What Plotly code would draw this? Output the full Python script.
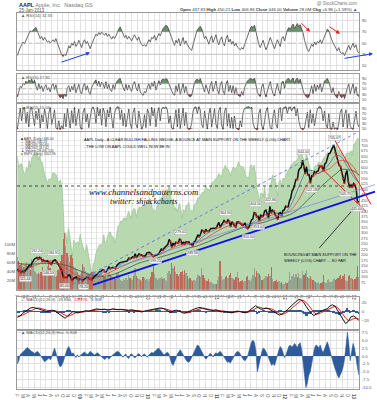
import numpy as np
import pandas as pd
import plotly.graph_objects as go

# ---------------- DATA ----------------
# Weekly AAPL closes (Fridays) Feb-2008 .. 25-Jan-2013 plus last session 28-Jan-2013
aapl_close = [
 133.75,125.48,124.63,119.46,125.02, 122.25,126.61,133.27,143.01, 153.08,147.14,161.04,169.73,
 180.94,183.45,187.62,181.17,188.75, 185.64,172.37,175.27,170.09, 170.12,172.58,165.15,162.12,
 156.66,169.55,175.74,176.79,169.53, 160.18,148.94,140.91,128.24, 97.07,96.80,97.40,96.38,107.59,
 108.04,90.24,82.58,92.67, 94.00,98.27,88.93,85.81,
 90.75,88.47,82.33,88.36,90.13, 99.72,99.16,91.20,89.31, 85.30,95.93,101.59,106.85, 115.99,119.57,123.42,123.90,
 132.51,129.57,122.42,122.50,135.81, 144.67,136.97,139.48,142.44, 140.02,138.52,151.75,159.99,163.39,
 165.51,166.78,169.22,170.05, 170.31,172.16,185.02,182.37, 184.90,190.47,188.05,205.20,188.50,
 194.34,204.45,199.92,200.59, 193.32,194.67,195.43,209.04,210.73,
 211.98,205.93,197.90,192.06, 195.46,200.38,201.67,204.62, 218.95,226.60,222.25,230.90,
 235.97,241.79,247.40,270.83,261.09, 235.86,253.82,242.32,256.88, 255.96,253.51,274.07,266.70,
 246.94,259.62,249.90,259.94,257.25, 260.09,249.10,249.64,241.62, 258.77,263.41,275.37,292.32,
 282.52,294.07,314.74,307.47,300.98, 317.13,308.03,306.73,315.00, 320.15,320.56,320.61,323.60,322.56,
 336.12,348.48,326.72,336.10, 346.50,356.85,350.56,348.16, 360.00,351.99,330.01,351.54,
 344.56,330.80,327.46,350.70,350.13, 346.66,340.50,335.22,337.41, 343.44,325.90,320.26,326.35,
 343.26,360.00,364.92,393.30,390.48, 373.62,376.18,356.03,383.58, 374.05,377.48,400.50,404.30,381.32,
 369.80,422.00,392.87,404.95, 400.24,384.62,374.94,363.57, 389.70,393.62,380.02,403.33,405.00,
 422.40,419.81,420.30,447.28, 459.68,493.42,502.12,522.41, 545.18,545.17,585.57,596.05,599.55,
 633.68,605.23,572.98,603.00, 565.25,566.71,530.38,562.29, 560.99,580.32,574.13,582.10,584.00,
 605.88,604.97,604.30,585.16, 615.70,621.70,648.11,663.22,665.24, 680.44,691.28,700.09,667.10,
 652.59,629.71,609.84,604.00, 576.80,547.06,527.68,571.50,585.28, 533.25,509.79,519.33,509.59,
 527.00,520.30,500.00,439.88,446.00]

# Volume (millions of shares)
aapl_volume_m = [
 72,65,55,60,52, 50,58,62,48, 55,45,68,58, 42,40,36,38,35, 40,50,42,44, 40,52,64,48,
 42,36,30,28,30, 45,48,65,78, 112,125,98,82,72, 62,78,70,52, 48,46,40,32,
 36,40,58,50,42, 38,36,34,38, 40,42,38,36, 34,30,36,38, 32,30,28,26,30, 38,32,30,28,
 26,24,38,40,28, 22,20,24,22, 26,22,32,26, 24,22,30,48,30, 26,24,22,20, 28,26,22,24,20,
 24,28,40,58, 36,26,22,24, 26,28,24,26, 22,20,38,42,34, 60,48,52,40, 36,30,34,40,
 42,32,44,38,30, 24,26,22,20, 22,20,26,32, 30,28,48,32,26, 22,20,24,18, 18,16,14,12,14,
 22,28,65,30, 22,24,28,30, 26,32,38,26, 24,22,28,40,26, 18,20,22,18, 20,28,30,22,
 20,24,32,48,28, 42,38,34,30, 22,24,26,30,28, 36,30,50,24, 18,20,22,18, 20,16,18,14,12,
 18,16,20,40, 22,30,34,28, 36,28,38,26,24, 42,32,38,45, 28,26,30,24, 22,20,18,16,18,
 14,16,18,32, 18,16,22,24,18, 18,20,24,22, 24,26,30,32, 24,30,34,22,20, 30,32,26,24,
 22,24,28,52,28]

# S&P 500 weekly closes (green overlay)
spx_close = [
 1395,1331,1349,1353,1331, 1294,1288,1330,1316, 1370,1332,1390,1398, 1413,1388,1426,1375,1400,
 1361,1360,1318,1278, 1262,1239,1260,1257, 1260,1296,1298,1292,1283, 1242,1252,1255,1213,
 1099,899,940,877,968, 930,873,800,896, 876,879,887,873,
 931,890,850,831,826, 869,827,770,735, 683,756,768,816, 843,857,870,866, 877,929,883,887,919,
 940,946,921,918, 896,880,941,979,987, 1010,1004,1026,1029, 1016,1042,1068,1044,
 1025,1071,1087,1080,1036, 1069,1093,1091,1091, 1106,1106,1102,1126,1115,
 1144,1136,1091,1074, 1066,1075,1109,1104, 1138,1149,1159,1167, 1178,1194,1192,1217,1187,
 1111,1136,1088,1089, 1064,1092,1117,1076, 1022,1078,1065,1102,1102, 1122,1079,1071,1065,
 1105,1110,1125,1149, 1147,1166,1176,1183,1183, 1226,1200,1200,1189, 1225,1240,1244,1257,1258,
 1272,1293,1283,1276, 1310,1329,1343,1320, 1321,1304,1279,1313, 1332,1328,1319,1337,1364,
 1340,1338,1333,1331, 1300,1271,1271,1268, 1339,1344,1316,1345,1292, 1199,1178,1123,1177,
 1174,1154,1216,1136,1131, 1155,1224,1238,1285, 1253,1263,1216,1159, 1244,1255,1219,1265,1258,
 1278,1289,1315,1316, 1345,1343,1361,1366, 1370,1371,1404,1397,1408, 1398,1370,1378,1403,
 1369,1353,1295,1318, 1278,1325,1343,1335,1362, 1355,1356,1362,1386, 1391,1405,1418,1411,1406,
 1438,1466,1460,1441, 1461,1428,1433,1412, 1414,1380,1360,1409,1416, 1418,1413,1430,1402,
 1466,1472,1486,1503,1500]

# Moving averages, month-end values Feb-2008 .. Jan-2013
ma50 = [140,128,140,165,180,172,165,155,125,103,93,
        89,90,93,108,122,135,145,160,172,185,192,200,
        203,200,212,236,250,255,255,252,260,282,302,313,
        328,343,347,343,342,338,353,375,385,392,392,390,
        415,470,535,585,585,572,590,620,655,648,605,560,
        530]
ma100 = [165,155,145,150,162,172,172,162,145,128,112,
         98,92,92,98,108,120,133,146,158,170,180,188,
         195,198,205,220,233,245,250,252,255,266,283,300,
         315,328,337,343,345,340,345,357,370,383,388,390,
         400,428,470,520,555,575,585,595,620,632,625,605,
         561]
ma200 = [160,158,157,158,160,160,160,160,155,147,135,
         125,115,107,103,102,106,114,125,138,150,162,170,
         178,184,192,200,208,218,226,234,240,250,260,272,
         283,295,305,315,325,332,338,345,352,362,370,375,
         383,398,420,447,472,500,525,548,570,590,590,585,
         567]

rsi14 = [28,36,42,47,52,49,55,60,66,72, 70,74,76,78,71,64,58,62,55,60,
 57,52,54,50,53,56,52,58,50,42, 33,29,26,30,28,38,45,41,50,46,
 53,44,48,55,47,42,51,56,49,53, 46,40,48,55,61,66,63,69,65,70,
 67,64,68,62,66,60,57,62,58,63, 70,75,79,72,66,60,64,57,62,58,
 54,60,65,59,55,61,52,48,45,47, 44,50,56,52,60,58,64,55,62,67,
 63,70,76,79,82,80,74,68,60,52, 46,55,50,58,45,53,60,48,54,47,
 42,39,37,48,56,66,74,78,80,76, 68,58,62,55,48,57,63,51,59,65,
 54,47,56,61,50,45,58,64,52,57, 48,53,45,50,43,40,38,42,39,47,
 55,63,70,76,80,78,82,70,58,48, 42,50,55,46,38,44,52,60,53,45,
 40,48,56,50,44,58,62,54,66,73, 78,74,80,84,76,82,85,79,83,75,
 68,55,45,38,35,42,48,44,52,47, 53,50,56,49,55,62,70,75,72,63,
 56,50,45,40,36,42,34,31,33,28, 35,40,46,38,44,50,42,47,36,32]

rsi5 = [18,40,60,55,72,65,80,70,85,78, 88,72,84,60,45,70,50,62,40,58,
 66,45,55,38,62,70,48,66,35,25, 15,22,12,30,20,55,62,38,60,45,
 70,35,50,68,40,30,58,72,45,62, 38,28,55,70,78,85,62,80,58,76,
 70,52,78,50,68,45,40,66,48,72, 82,88,90,70,55,42,68,45,65,50,
 40,68,78,55,42,70,38,30,25,40, 35,58,70,48,74,60,80,45,70,82,
 65,84,88,85,90,86,70,58,42,30, 25,62,40,70,28,55,72,35,60,30,
 22,18,25,55,72,84,88,80,90,75, 50,38,66,45,30,65,78,40,62,80,
 48,30,66,78,42,28,70,82,40,64, 35,62,30,55,28,22,20,40,25,55,
 72,80,86,90,88,84,92,60,38,25, 20,58,70,35,18,42,66,78,50,30,
 22,55,72,45,28,75,80,52,82,88, 90,78,88,92,70,86,92,75,88,60,
 45,28,20,15,18,45,62,30,68,40, 65,48,72,38,62,80,86,90,78,50,
 35,55,28,20,15,40,22,15,28,12, 35,55,68,30,52,70,32,58,25,20]

rsi2 = [5,60,92,40,85,96,30,75,15,88, 95,55,20,80,45,90,10,65,35,88,
 60,8,72,94,25,50,85,12,5,40, 3,20,8,70,15,90,45,10,82,30,
 95,20,60,88,15,5,75,92,35,68, 12,50,90,97,80,30,95,60,88,22,
 92,75,15,85,55,96,40,10,70,90, 98,95,45,85,20,70,15,55,88,30,
 8,75,92,25,10,80,35,6,18,65, 12,88,72,20,95,60,90,15,70,94,
 40,88,96,92,97,85,30,60,10,5, 40,85,15,90,8,50,92,20,75,10,
 4,6,30,80,95,97,70,98,85,25, 12,80,40,6,70,92,15,60,90,25,
 8,82,95,20,5,78,93,18,70,10, 55,8,60,12,5,3,40,15,75,90,
 95,97,98,92,96,30,10,5,3,70, 88,20,4,35,80,94,50,12,6,60,
 85,25,10,88,94,40,92,96,98,70, 95,97,80,94,98,60,90,40,15,6,
 3,10,50,75,12,85,30,70,20,65, 90,96,98,85,40,80,25,10,70,8,
 4,35,5,12,3,30,75,88,15,60, 85,10,70,20,8,5,45,80,30,15]

macd_line = [-13,-10,-4,0,5,8,9,8,6,4, 2,0,1,3,2,-2,-6,-12,-15,-10,
 -4,0,-2,-3,-1,1,2,1,3,5, 6,5,4,5,3,4,6,5,4,5,
 4,3,2,4,3,2,1,-1,1,2, 4,5,6,7,8,7,4,0,-2,2,
 3,1,-2,-4,-2,1,3,6,8,9, 7,5,4,3,2,4,2,-1,1,0,
 -2,-3,-1,1,0,-2,-3,-1,4,10, 13,9,5,6,8,6,2,-2,-5,-8,
 -6,-2,4,10,16,22,26,27,22,12, 3,-4,-9,-6,-2,2,4,6,12,15,
 12,2,-8,-18,-27,-22,-12,-10,-14,-20]
macd_signal = [-10,-10,-8,-5,-2,2,5,7,8,7, 5,3,2,1,2,1,-1,-5,-9,-11,
 -9,-5,-3,-2,-2,-1,0,1,1,3, 4,5,5,5,4,4,5,5,5,5,
 4,4,3,3,3,3,2,1,0,1, 2,3,5,6,7,7,6,4,1,0,
 1,2,0,-2,-3,-2,0,2,5,7, 8,7,5,4,3,3,3,2,0,0,
 -1,-2,-2,-1,0,-1,-2,-2,0,4, 8,10,9,7,7,7,6,3,-1,-4,
 -6,-5,-1,4,9,15,20,24,25,21, 14,6,-2,-6,-5,-2,1,3,6,10,
 12,9,2,-6,-15,-20,-19,-16,-15,-17]
macd_hist = [-2.5,-1.5,0.5,1.0,1.4,1.8,2.2,2.7,2.3,1.8, 1.4,1.2,0.8,1.1,1.5,1.0,0.3,-0.8,-1.3,-1.8,
 -1.5,-1.0,-0.6,-1.2,-0.5,1.2,2.5,1.0,-1.2,-2.5, -3.5,-3.0,-2.0,-0.8,1.0,2.4,3.0,2.0,0.6,1.0,
 0.3,-0.5,0.4,-0.3,0.2,0.6,0.9,1.3,0.8,0.5, 0.9,1.5,1.1,0.6,0.3,0.7,1.0,0.6,0.2,-0.4,
 -0.9,-1.1,-0.7,-0.3,-1.0,-0.5,0.3,0.5,0.8,1.1, 1.5,1.3,0.8,0.2,-0.4,0.3,0.6,-0.5,-0.8,0.4,
 0.7,0.2,-0.6,-0.3,0.5,0.8,0.3,-0.2,0.4,0.6, 0.2,-0.4,0.3,0.8,1.2,0.9,1.4,1.8,2.2,2.5,
 2.0,1.3,0.6,0.4,0.9,1.2,0.8,-1.0,-2.4,-3.0, -2.0,-0.8,0.6,1.4,2.0,1.2,0.3,-0.5,-1.2,-1.8,
 -2.0,-1.4,-0.4,0.8,2.0,2.8,3.5,3.2,2.4,1.2, 0.6,-0.5,-1.0,-0.4,0.5,0.9,0.4,-0.3,0.6,1.0,
 0.7,1.2,1.5,0.9,0.2,-0.6,-1.2,-2.0,-1.8,-2.2, -1.5,-0.6,0.4,1.0,1.5,1.3,0.6,-0.4,-1.0,-1.5,
 -1.2,-0.3,1.5,3.2,4.6,5.0,4.2,1.5,-5.0,-3.0, -0.5,1.2,2.5,2.2,1.4,0.3,-1.2,-2.5,-3.0,-2.4,
 -3.0,-1.5,0.5,1.8,3.0,2.4,1.0,-0.5,0.4,2.0, 3.0,3.5,2.8,3.2,4.0,3.4,2.6,3.8,4.2,2.0,
 -2.5,-6.0,-10.0,-8.5,-6.0,-5.0,-2.5,0.5,2.5,3.5, 3.2,2.5,3.5,2.0,1.0,2.2,3.5,4.5,3.0,1.0,
 -0.5,-2.0,-3.5,-5.0,-6.0,-7.0,-6.2,-5.0,-3.5,-1.0, 3.0,7.5,4.0,-1.5,1.5,4.0,2.5,-1.0,-3.5,-6.0]

# price callout labels
label_dates = ['2008-03-17','2008-05-14','2008-07-15','2008-08-11','2008-10-10','2009-01-20',
               '2010-02-05','2010-06-21','2010-08-25','2011-02-16','2011-06-20','2011-07-26',
               '2011-08-09','2011-10-12','2012-04-10','2012-05-18','2012-09-21','2012-11-16','2013-01-18']
label_prices = [115.44,192.24,146.53,180.91,85.00,78.20,199.25,279.01,235.56,364.90,310.50,404.50,
                353.02,422.86,644.00,522.18,705.07,505.75,435.00]
label_above = [False,True,False,True,False,False,False,True,False,True,False,True,
               False,True,True,False,True,False,False]

start, end = '2008-02-01', '2013-01-28'
def dates_for(arr):
    return pd.date_range(start, end, periods=len(arr))

# ---------------- FIGURE ----------------
W, H = 377, 400
ML, MR = 17, 18
def px(X): return (X - ML) / (W - ML - MR)
def py(Y): return 1 - Y / H

FONT = "Liberation Sans, Arial, sans-serif"
GRID = "#e2e2e2"
TXT = "#555555"

fig = go.Figure()
wk = dates_for(aapl_close)

def rsi_panel(vals, yname, xname, hi, lo):
    d = dates_for(vals)
    v = np.array(vals, dtype=float)
    fig.add_trace(go.Scatter(x=d, y=[hi]*len(d), mode='lines', line=dict(width=0), xaxis=xname, yaxis=yname, hoverinfo='skip'))
    fig.add_trace(go.Scatter(x=d, y=np.maximum(v, hi), mode='lines', line=dict(width=0), fill='tonexty',
                             fillcolor='rgba(60,110,60,0.75)', xaxis=xname, yaxis=yname, hoverinfo='skip'))
    fig.add_trace(go.Scatter(x=d, y=[lo]*len(d), mode='lines', line=dict(width=0), xaxis=xname, yaxis=yname, hoverinfo='skip'))
    fig.add_trace(go.Scatter(x=d, y=np.minimum(v, lo), mode='lines', line=dict(width=0), fill='tonexty',
                             fillcolor='rgba(140,30,30,0.8)', xaxis=xname, yaxis=yname, hoverinfo='skip'))
    fig.add_trace(go.Scatter(x=d, y=v, mode='lines', line=dict(color='#444444', width=0.8), xaxis=xname, yaxis=yname))

rsi_panel(rsi14, 'y', 'x', 70, 30)
rsi_panel(rsi5, 'y2', 'x2', 70, 30)
rsi_panel(rsi2, 'y3', 'x3', 90, 10)

# ---- Price panel ----
fig.add_trace(go.Scatter(x=wk, y=spx_close, mode='lines', line=dict(color='#8fbf86', width=0.6),
                         fill='tozeroy', fillcolor='#b8d8b0', xaxis='x4', yaxis='y4'))
closes = np.array(aapl_close)
down = np.r_[False, closes[1:] < closes[:-1]]
vcol = np.where(down, 'rgba(190,70,60,0.75)', 'rgba(120,120,120,0.55)')
fig.add_trace(go.Bar(x=wk, y=aapl_volume_m, marker=dict(color=list(vcol), line=dict(width=0)),
                     xaxis='x4', yaxis='y7'))
md = dates_for(ma50)
fig.add_trace(go.Scatter(x=md, y=ma200, mode='lines', line=dict(color='#3c5a3c', width=0.8, shape='spline'), xaxis='x4', yaxis='y8'))
fig.add_trace(go.Scatter(x=md, y=ma100, mode='lines', line=dict(color='#e0473a', width=0.8, shape='spline'), xaxis='x4', yaxis='y8'))
fig.add_trace(go.Scatter(x=md, y=ma50, mode='lines', line=dict(color='#5a6fa8', width=0.8, shape='spline'), xaxis='x4', yaxis='y8'))
fig.add_trace(go.Scatter(x=wk, y=aapl_close, mode='lines', line=dict(color='#111111', width=1.5), xaxis='x4', yaxis='y8'))
fig.add_trace(go.Scatter(x=wk[down], y=closes[down], mode='markers', marker=dict(color='#d02020', size=2.2),
                         xaxis='x4', yaxis='y8'))

# ---- MACD panels ----
hd = dates_for(macd_hist)
fig.add_trace(go.Bar(x=hd, y=macd_hist, marker=dict(color='#2d5b9c', line=dict(width=0)), xaxis='x5', yaxis='y5'))
mdd = dates_for(macd_line)
fig.add_trace(go.Scatter(x=mdd, y=macd_signal, mode='lines', line=dict(color='#d42a20', width=1), xaxis='x5', yaxis='y5'))
fig.add_trace(go.Scatter(x=mdd, y=macd_line, mode='lines', line=dict(color='#111111', width=1), xaxis='x5', yaxis='y5'))
fig.add_trace(go.Scatter(x=hd, y=macd_hist, mode='lines', line=dict(color='#2d5b9c', width=0.6),
                         fill='tozeroy', fillcolor='#2d5b9c', xaxis='x6', yaxis='y6'))

# ---------------- AXES ----------------
months = pd.date_range('2008-02-01', '2013-01-01', freq='MS')
mtxt = [("<b>%02d</b>" % (m.year % 100)) if m.month == 1 else "JFMAMJJASOND"[m.month - 1] for m in months]
XR = ['2008-01-30', '2013-01-29']

def xax(anchor, labels):
    return dict(range=XR, anchor=anchor, domain=[0, 1], tickvals=list(months), ticktext=mtxt,
                showticklabels=labels, showgrid=True, gridcolor=GRID, gridwidth=0.5, ticks='',
                tickfont=dict(size=4.5, color=TXT, family=FONT), showline=True, mirror=True,
                linecolor='#9a9a9a', linewidth=0.6, zeroline=False, ticklabelstandoff=1)

def yax(dom, rng, tv, tt=None, anchor='x'):
    d = dict(domain=dom, range=rng, anchor=anchor, side='right', tickvals=tv,
             tickfont=dict(size=4.3, color=TXT, family=FONT), showgrid=True, gridcolor=GRID,
             gridwidth=0.5, zeroline=False, ticks='', showline=True, mirror=True,
             linecolor='#9a9a9a', linewidth=0.6, ticklabelstandoff=1)
    if tt is not None:
        d['ticktext'] = tt
    return d

D14 = [py(70), py(12)]
D5 = [py(102), py(74)]
D2 = [py(131), py(104)]
DP = [py(291), py(132)]
DM = [py(330), py(298)]
DH = [py(391), py(332)]
rsi_t = [10, 30, 50, 70, 90]

price_ticks = list(range(75, 726, 25))
hist_ticks = [-10, -7.5, -5, -2.5, 0, 2.5, 5, 7.5]

fig.update_layout(
    width=W, height=H, margin=dict(l=ML, r=MR, t=0, b=0),
    paper_bgcolor='white', plot_bgcolor='white', showlegend=False, bargap=0,
    font=dict(family=FONT, size=5, color='#222'),
    xaxis=xax('y', False), xaxis2=xax('y2', False), xaxis3=xax('y3', False),
    xaxis4=xax('y4', True), xaxis5=xax('y5', False), xaxis6=xax('y6', True),
    yaxis=yax(D14, [1, 104], rsi_t, anchor='x'),
    yaxis2=yax(D5, [-2, 106], rsi_t, anchor='x2'),
    yaxis3=yax(D2, [-2, 108], rsi_t, anchor='x3'),
    yaxis4=dict(domain=DP, range=[600, 1541], anchor='x4', showticklabels=False, showgrid=False,
                zeroline=False, showline=True, mirror=True, linecolor='#9a9a9a', linewidth=0.6),
    yaxis5=yax(DM, [-38, 33], [-20, 0, 20], anchor='x5'),
    yaxis6=yax(DH, [-10.5, 8.1], hist_ticks, ["%.1f" % t for t in hist_ticks], anchor='x6'),
    yaxis7=dict(overlaying='y4', anchor='x4', side='left', range=[0, 350], tickvals=[20, 40, 60, 80, 100],
                ticktext=['20M', '40M', '60M', '80M', '100M'], showgrid=False, zeroline=False,
                tickfont=dict(size=4.3, color=TXT, family=FONT), ticks='', ticklabelstandoff=1),
    yaxis8=dict(overlaying='y4', anchor='x4', side='right', range=[40, 762], tickvals=price_ticks,
                showgrid=True, gridcolor='rgba(200,200,200,0.35)', gridwidth=0.5, zeroline=False,
                tickfont=dict(size=4.0, color=TXT, family=FONT), ticks='', ticklabelstandoff=1),
)

shapes = []
for yname, hi, lo in (('y', 70, 30), ('y2', 70, 30), ('y3', 70, 30)):
    for v in (hi, lo):
        shapes.append(dict(type='line', xref='paper', x0=0, x1=1, yref=yname, y0=v, y1=v,
                           line=dict(color='#b0b0b0', width=0.6)))
    shapes.append(dict(type='line', xref='paper', x0=0, x1=1, yref=yname, y0=50, y1=50,
                       line=dict(color='#b0b0b0', width=0.6, dash='dashdot')))
shapes.append(dict(type='line', xref='paper', x0=0, x1=1, yref='y8', y0=515, y1=515,
                   line=dict(color='#222', width=0.8, dash='dot')))

def seg(x0, y0, x1, y1, color, width, dash='solid'):
    shapes.append(dict(type='line', xref='paper', yref='paper', x0=px(x0), y0=py(y0), x1=px(x1), y1=py(y1),
                       line=dict(color=color, width=width, dash=dash)))

seg(62, 291, 358, 132, '#4a64e8', 0.8, 'dot')
seg(80, 280, 375, 185, '#6f86f0', 0.7)
seg(93, 286, 375, 192, '#1010e8', 1.8)
seg(333, 137, 371, 205, '#ee1c1c', 1.0)
seg(318, 165, 366, 212, '#ee1c1c', 1.0)
fig.update_layout(shapes=shapes)

ann = []
def arrow(x0, y0, x1, y1, color, w=1.0):
    ann.append(dict(xref='paper', yref='paper', x=px(x1), y=py(y1), axref='pixel', ayref='pixel',
                    ax=(x0 - x1), ay=(y0 - y1), showarrow=True, arrowhead=2, arrowsize=0.8,
                    arrowwidth=w, arrowcolor=color, text=''))
arrow(60, 62, 90, 52, '#1f3fe0', 1.0)
arrow(300, 21, 310, 31, '#e81c1c', 1.0)
arrow(328, 25, 340, 33, '#e81c1c', 1.0)
arrow(343, 58, 373, 53, '#1f3fe0', 1.0)
arrow(318, 250, 354, 209, '#111111', 0.8)

def txt(x, y, s, size=5, color='#222', anchor='left', family=FONT):
    ann.append(dict(xref='paper', yref='paper', x=px(x), y=py(y), text=s, showarrow=False,
                    xanchor=anchor, yanchor='middle', font=dict(size=size, color=color, family=family)))

txt(17, 4, "<b>AAPL</b> <span style='color:#777'>Apple, Inc.  Nasdaq GS</span>", 5.5, '#222')
txt(17, 10, "25-Jan-2013", 4.5, '#555')
txt(359, 3, "@ StockCharts.com", 4.5, '#777', 'right')
txt(359, 9, "<b>Open</b> 437.83 <b>High</b> 450.21 <b>Low</b> 406.86 <b>Close</b> 446.00 <b>Volume</b> 28.0M "
            "<b>Chg</b> +6.96 (+1.59%) <span style='color:#2040d0'>▲</span>", 4.3, '#333', 'right')
txt(19, 15, "<span style='color:#3c6e3c'>▲</span> RSI(14) 32.55", 4.2, '#555')
txt(19, 77, "<span style='color:#3c6e3c'>▲</span> RSI(5) 27.81", 4.2, '#555')
txt(19, 107, "<span style='color:#3c6e3c'>▲</span> RSI(2) 15.05", 4.2, '#555')
leg = ["<span style='color:#111'>■</span> AAPL (Daily) 446.00",
       "<span style='color:#5a6fa8'>—</span> MA(50) 530.13",
       "<span style='color:#e0473a'>—</span> MA(100) 560.60",
       "<span style='color:#3c5a3c'>—</span> MA(200) 567.42",
       "<span style='color:#555'>▲</span> Volume 28,005,520",
       "<span style='color:#5fa35f'>■</span> $SPX (Daily) 1502.96"]
for i, s in enumerate(leg):
    txt(19, 139 + i * 3.1, s, 3.3, '#444')
txt(19, 301, "— MACD(12,26,9) -19.884, <span style='color:#d42a20'>-13.976</span>, "
             "<span style='color:#2d5b9c'>-5.908</span>", 4.2, '#555')
txt(19, 334, "<span style='color:#2d5b9c'>▲</span> MACD(12,26,9) Hist -5.908", 4.2, '#555')

txt(82, 140, "AAPL Daily - A CLEAR BULLISH FALLING WEDGE, A BOUNCE AT MAIN SUPPORT ON THE WEEKLY (LOG) CHART.", 3.9, '#111')
txt(82, 147, "- THE LOW ON AAPL COULD WELL NOW BE IN", 3.9, '#111')
txt(87, 192, "<i>www.channelsandpatterns.com</i>", 8.8, '#111', family="Liberation Serif, DejaVu Serif, serif")
txt(108, 202, "<i>twitter: shjackcharts</i>", 8.2, '#111', family="Liberation Serif, DejaVu Serif, serif")
txt(282, 255, "BOUNCING AT MAIN SUPPORT ON THE", 3.9, '#111')
txt(282, 261, "WEEKLY (LOG) CHART ... SO FAR", 3.9, '#111')

for d, p, up in zip(label_dates, label_prices, label_above):
    ann.append(dict(xref='x4', yref='y8', x=d, y=p, text="%.2f" % p, showarrow=False,
                    yshift=6 if up else -6, font=dict(size=3.6, color='#333', family=FONT),
                    bgcolor='rgba(255,255,255,0.85)', bordercolor='#999', borderwidth=0.4, borderpad=0.5))

fig.update_layout(annotations=ann)
fig.write_html("out.html", config={'displayModeBar': False},
               post_script="document.body.style.margin='0px';document.body.style.overflow='hidden';")
